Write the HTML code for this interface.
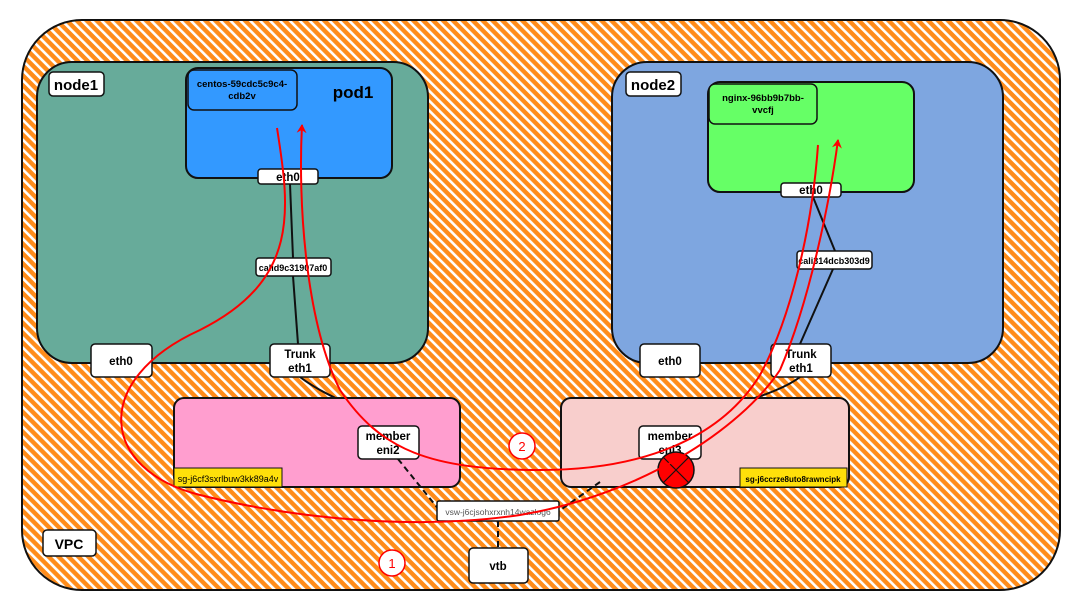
<!DOCTYPE html>
<html><head><meta charset="utf-8"><style>
html,body{margin:0;padding:0;background:#fff}
svg{display:block}
text{font-family:"Liberation Sans",sans-serif;fill:#000}
</style></head><body>
<svg width="1080" height="603" viewBox="0 0 1080 603" xmlns="http://www.w3.org/2000/svg">
<defs>
<pattern id="h" width="7" height="7" patternUnits="userSpaceOnUse" patternTransform="rotate(-45)">
<rect width="7" height="7" fill="#ff8c1a"/>
<rect x="0" y="0" width="2.6" height="7" fill="#fff"/>
</pattern>
<marker id="ar" markerWidth="10" markerHeight="10" refX="8" refY="5" orient="auto" markerUnits="userSpaceOnUse">
<path d="M0,0 L9,5 L0,10 L3,5 Z" fill="#f00"/>
</marker>
</defs>
<rect x="22" y="20" width="1038" height="570" rx="60" fill="url(#h)" stroke="#111" stroke-width="2"/>
<rect x="37" y="62" width="391" height="301" rx="35" fill="#67ab9a" stroke="#111" stroke-width="2"/>
<rect x="612" y="62" width="391" height="301" rx="35" fill="#7ea6e0" stroke="#111" stroke-width="2"/>
<rect x="49" y="72" width="55" height="24" rx="4" fill="#fff" stroke="#111" stroke-width="1.5"/>
<text x="76" y="90" font-size="15" font-weight="bold" text-anchor="middle">node1</text>
<rect x="626" y="72" width="55" height="24" rx="4" fill="#fff" stroke="#111" stroke-width="1.5"/>
<text x="653" y="90" font-size="15" font-weight="bold" text-anchor="middle">node2</text>
<rect x="186" y="68" width="206" height="110" rx="12" fill="#3399ff" stroke="#111" stroke-width="2"/>
<rect x="188" y="70" width="109" height="40" rx="6" fill="#3399ff" stroke="#111" stroke-width="1.5"/>
<text x="242" y="87" font-size="9.5" font-weight="bold" text-anchor="middle">centos-59cdc5c9c4-</text>
<text x="242" y="99" font-size="9.5" font-weight="bold" text-anchor="middle">cdb2v</text>
<text x="353" y="98" font-size="17" font-weight="bold" text-anchor="middle">pod1</text>
<rect x="708" y="82" width="206" height="110" rx="12" fill="#66ff66" stroke="#111" stroke-width="2"/>
<rect x="709" y="84" width="108" height="40" rx="6" fill="#66ff66" stroke="#111" stroke-width="1.5"/>
<text x="763" y="101" font-size="9.5" font-weight="bold" text-anchor="middle">nginx-96bb9b7bb-</text>
<text x="763" y="113" font-size="9.5" font-weight="bold" text-anchor="middle">vvcfj</text>
<path d="M290,184 L293,258 M293,276 L298,344" stroke="#111" stroke-width="2" fill="none"/>
<path d="M813,197 L835,251 M833,269 L800,344" stroke="#111" stroke-width="2" fill="none"/>
<path d="M300,377 C330,400 370,410 388,426" stroke="#111" stroke-width="2" fill="none"/>
<path d="M800,377 C770,400 700,410 670,426" stroke="#111" stroke-width="2" fill="none"/>
<rect x="174" y="398" width="286" height="89" rx="10" fill="#ff9ecf" stroke="#111" stroke-width="2"/>
<rect x="561" y="398" width="288" height="89" rx="10" fill="#f8cecc" stroke="#111" stroke-width="2"/>
<rect x="174" y="468" width="108" height="19" fill="#ffe00a" stroke="#111" stroke-width="1"/>
<text x="228" y="482" font-size="9" text-anchor="middle">sg-j6cf3sxrlbuw3kk89a4v</text>
<rect x="740" y="468" width="107" height="19" fill="#ffe00a" stroke="#111" stroke-width="1"/>
<text x="793" y="482" font-size="8" font-weight="bold" text-anchor="middle">sg-j6ccrze8uto8rawncipk</text>
<path d="M398,459 L440,511 M600,482 L559,511 M498,521 L498,548" stroke="#111" stroke-width="2" stroke-dasharray="6,4" fill="none"/>
<g stroke="#111" stroke-width="1.5" fill="#fff">
<rect x="258" y="169" width="60" height="15" rx="3"/>
<rect x="256" y="258" width="75" height="18" rx="3"/>
<rect x="91" y="344" width="61" height="33" rx="4"/>
<rect x="270" y="344" width="60" height="33" rx="4"/>
<rect x="781" y="183" width="60" height="14" rx="3"/>
<rect x="797" y="251" width="75" height="18" rx="3"/>
<rect x="640" y="344" width="60" height="33" rx="4"/>
<rect x="771" y="344" width="60" height="33" rx="4"/>
<rect x="358" y="426" width="61" height="33" rx="4"/>
<rect x="639" y="426" width="62" height="33" rx="4"/>
<rect x="437" y="501" width="122" height="20" rx="2"/>
<rect x="469" y="548" width="59" height="35" rx="4"/>
<rect x="43" y="530" width="53" height="26" rx="4"/>
</g>
<g font-size="11.5" font-weight="bold" text-anchor="middle">
<text x="288" y="181">eth0</text>
<text x="293" y="271" font-size="9">calid9c31907af0</text>
<text x="121" y="365">eth0</text>
<text x="300" y="358">Trunk</text><text x="300" y="372">eth1</text>
<text x="811" y="194">eth0</text>
<text x="834" y="264" font-size="9">cali314dcb303d9</text>
<text x="670" y="365">eth0</text>
<text x="801" y="358">Trunk</text><text x="801" y="372">eth1</text>
<text x="388" y="440">member</text><text x="388" y="454">eni2</text>
<text x="670" y="440">member</text><text x="670" y="454">eni3</text>
<text x="498" y="515" font-size="8.5" font-weight="normal" style="fill:#555">vsw-j6cjsohxrxnh14wazlog6</text>
<text x="498" y="570">vtb</text>
<text x="69" y="549" font-size="14">VPC</text>
</g>
<circle cx="676" cy="470" r="18" fill="#f00" stroke="#111" stroke-width="1.5"/>
<path d="M663,457 L689,483 M689,457 L663,483" stroke="#111" stroke-width="1.2"/>
<path d="M277,128 C290,210 300,280 200,330 C90,380 100,470 200,495 C300,520 420,530 520,515 C640,495 740,430 780,370 C810,300 830,200 838,140" stroke="#f00" stroke-width="2" fill="none" marker-end="url(#ar)"/>
<path d="M818,145 C812,230 790,320 760,375 C720,440 640,470 540,470 C430,470 380,450 340,390 C305,320 298,200 302,125" stroke="#f00" stroke-width="2" fill="none" marker-end="url(#ar)"/>
<circle cx="522" cy="446" r="13" fill="#fff" stroke="#f00" stroke-width="1.5"/>
<text x="522" y="451" font-size="13" text-anchor="middle" style="fill:#f00">2</text>
<circle cx="392" cy="563" r="13" fill="#fff" stroke="#f00" stroke-width="1.5"/>
<text x="392" y="568" font-size="13" text-anchor="middle" style="fill:#f00">1</text>
</svg>
</body></html>
